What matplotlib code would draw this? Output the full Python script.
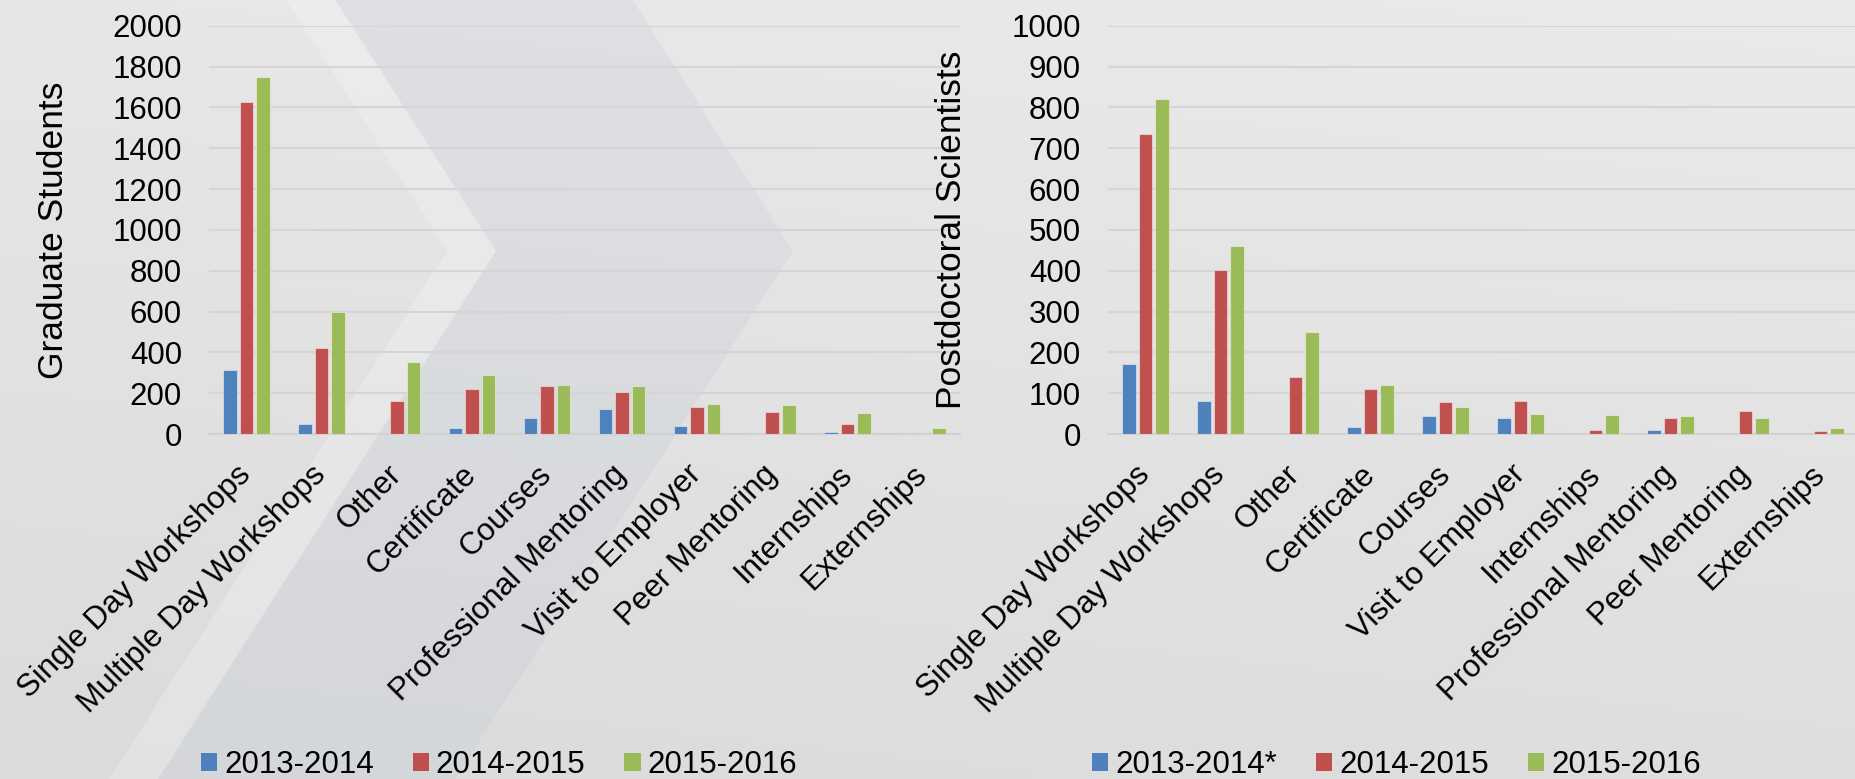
import numpy as np
import matplotlib
matplotlib.use("Agg")
import matplotlib.pyplot as plt
from matplotlib.patches import Polygon, Rectangle
from matplotlib.transforms import ScaledTranslation

plt.rcParams["font.family"] = ["Liberation Sans", "DejaVu Sans"]

# ---- data -------------------------------------------------------------
grad_categories = ["Single Day Workshops", "Multiple Day Workshops", "Other",
                   "Certificate", "Courses", "Professional Mentoring",
                   "Visit to Employer", "Peer Mentoring", "Internships",
                   "Externships"]
grad_2013_2014 = [312, 50, 0, 29, 76, 122, 38, 2, 9, 0]
grad_2014_2015 = [1625, 420, 160, 222, 236, 205, 133, 110, 48, 2]
grad_2015_2016 = [1748, 598, 351, 287, 240, 233, 145, 142, 102, 30]

postdoc_categories = ["Single Day Workshops", "Multiple Day Workshops", "Other",
                      "Certificate", "Courses", "Visit to Employer",
                      "Internships", "Professional Mentoring",
                      "Peer Mentoring", "Externships"]
postdoc_2013_2014 = [171, 80, 0, 17, 43, 38, 1, 11, 0, 0]
postdoc_2014_2015 = [735, 401, 140, 110, 78, 81, 10, 39, 56, 7]
postdoc_2015_2016 = [820, 461, 250, 120, 65, 48, 46, 45, 39, 15]

grad_legend = ["2013-2014", "2014-2015", "2015-2016"]
postdoc_legend = ["2013-2014*", "2014-2015", "2015-2016"]
grad_yticks = list(range(0, 2001, 200))
postdoc_yticks = list(range(0, 1001, 100))

colors = ["#4F81BD", "#C0504D", "#9BBB59"]

# ---- figure -----------------------------------------------------------
W, H = 1856, 779
fig = plt.figure(figsize=(W / 100, H / 100), dpi=100)

# background: soft grey gradient with two chevron bands
bg = fig.add_axes([0, 0, 1, 1], zorder=-10)
xx, yy = np.meshgrid(np.linspace(0, 1, 200), np.linspace(0, 1, 100))
shade = 0.905 + 0.012 * xx - 0.045 * yy
bg.imshow(np.dstack([shade, shade, shade]), extent=[0, W, H, 0],
          aspect="auto", interpolation="bilinear")
slope, tip_y = 0.64, 251


def chevron(x_left_tip, x_right_tip):
    pts = [(x_left_tip - slope * tip_y, 0), (x_left_tip, tip_y),
           (x_left_tip - slope * (H - tip_y), H),
           (x_right_tip - slope * (H - tip_y), H), (x_right_tip, tip_y),
           (x_right_tip - slope * tip_y, 0)]
    return pts


bg.add_patch(Polygon(chevron(447, 496), closed=True, facecolor="white",
                     alpha=0.22, edgecolor="none"))
bg.add_patch(Polygon(chevron(496, 793), closed=True, facecolor="#bcc6d4",
                     alpha=0.22, edgecolor="none"))
bg.set_xlim(0, W)
bg.set_ylim(H, 0)
bg.axis("off")

TICK_FS = 22.5
LABEL_FS = 25.5


def draw_panel(rect, cats, series, yticks, ylabel):
    ax = fig.add_axes(rect)
    ax.patch.set_alpha(0)
    x = np.arange(len(cats))
    offsets = [-0.22, 0.0, 0.22]
    for vals, off, col in zip(series, offsets, colors):
        ax.bar(x + off, vals, width=0.18, color=col,
               edgecolor=(1, 1, 1, 0.45), linewidth=0.8, zorder=3)
    ax.set_xlim(-0.5, len(cats) - 0.5)
    ax.set_ylim(0, yticks[-1])
    ax.set_yticks(yticks)
    ax.set_yticklabels([str(t) for t in yticks], fontsize=TICK_FS)
    ax.set_xticks(x)
    ax.set_xticklabels(cats, fontsize=TICK_FS, rotation=45, ha="right",
                       va="center", rotation_mode="anchor")
    shift = ScaledTranslation(-1 / 72, 0, fig.dpi_scale_trans)
    for lab in ax.get_xticklabels():
        lab.set_transform(lab.get_transform() + shift)
    ax.tick_params(axis="y", length=0, pad=19.5)
    ax.tick_params(axis="x", length=0, pad=26)
    ax.grid(axis="y", color="#d5d5d5", linewidth=1.5, zorder=0)
    ax.set_axisbelow(True)
    for s in ["top", "right", "left"]:
        ax.spines[s].set_visible(False)
    ax.spines["bottom"].set_color("#d2d2d2")
    ax.spines["bottom"].set_linewidth(1.5)
    ax.set_ylabel(ylabel, fontsize=LABEL_FS)
    ax.yaxis.label.set_verticalalignment("center")
    return ax


ax_bottom = (H - 434) / H
ax_height = 408.3 / H
ax1 = draw_panel([209 / W, ax_bottom, 751 / W, ax_height], grad_categories,
                 [grad_2013_2014, grad_2014_2015, grad_2015_2016],
                 grad_yticks, "Graduate Students")
ax1.yaxis.set_label_coords((53.5 - 209) / 751, 0.5)

ax2 = draw_panel([1108 / W, ax_bottom, 750 / W, ax_height], postdoc_categories,
                 [postdoc_2013_2014, postdoc_2014_2015, postdoc_2015_2016],
                 postdoc_yticks, "Postdoctoral Scientists")
ax2.yaxis.set_label_coords((952 - 1108) / 750, 0.5)


def add_legend(labels, cx):
    handles = [Rectangle((0, 0), 1, 1, facecolor=c, edgecolor="none")
               for c in colors]
    fig.legend(handles, labels, loc="center", bbox_to_anchor=(cx, 1 - 765 / H),
               ncol=3, frameon=False, fontsize=TICK_FS, handlelength=0.52,
               handleheight=0.52, handletextpad=0.22, columnspacing=1.25,
               borderpad=0, borderaxespad=0)


add_legend(grad_legend, 499 / W)
add_legend(postdoc_legend, 1396.5 / W)

fig.savefig("out.png", dpi=100)
